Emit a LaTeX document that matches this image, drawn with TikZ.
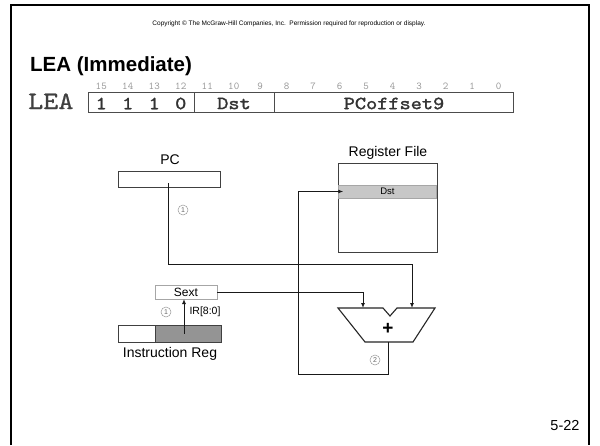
\documentclass[tikz,border=0pt]{standalone}
\usepackage{fontspec}
\setmainfont{Liberation Sans}
\newfontfamily\courfont{lmmono10-regular.otf}[FakeStretch=1.15, FakeBold=0.6]
\newfontfamily\courbold{lmmono10-regular.otf}[FakeStretch=1.15, FakeBold=1.6]
\newfontfamily\bitfont{lmmono10-regular.otf}
\usetikzlibrary{arrows.meta}
\begin{document}
\begin{tikzpicture}[x=1pt,y=-1pt,
  lbl/.style={font=\fontsize{14}{16}\selectfont, inner sep=0pt},
  wire/.style={draw=black!90, line width=0.9pt},
  arr/.style={wire, -{Latex[length=5pt,width=4pt]}},
  regbox/.style={draw=black!75, line width=1pt, inner sep=0pt},
  bitnum/.style={font=\bitfont\fontsize{10.5}{10}\selectfont, text=black!40, inner sep=0pt},
  fieldtxt/.style={font=\courbold\fontsize{18.5}{18}\selectfont, text=black!80, inner sep=0pt},
  circnum/.style={circle, draw=black!40, line width=0.5pt, inner sep=0pt, minimum size=10pt, font=\fontsize{7}{8}\selectfont, text=black!60}]
\useasboundingbox (0,0) rectangle (600,445);
\fill[white] (0,0) rectangle (600,445);
\draw[line width=2pt] (11,445) -- (11,5) -- (589,5) -- (589,445);

\node[font=\fontsize{6.5}{7}\selectfont, inner sep=0pt] (copy) at (289,24) {Copyright © The McGraw-Hill Companies, Inc.\ \ Permission required for reproduction or display.};
\node[font=\fontsize{20.5}{22}\selectfont\bfseries, anchor=base west, inner sep=0pt] (title) at (30,71) {LEA (Immediate)};

% instruction format
\node[font=\courfont\fontsize{25}{25}\selectfont, text=black!75, anchor=base west, inner sep=0pt] (lealbl) at (28,109) {LEA};
\node[draw=black!70, line width=1pt, minimum width=425pt, minimum height=20pt, inner sep=0pt] (instr) at (300.5,102) {};
\draw[draw=black!70, line width=1pt] (194,92) -- (194,112);
\draw[draw=black!70, line width=1pt] (274.5,92) -- (274.5,112);
\foreach \i in {0,...,15} {
  \node[bitnum] (b\i) at ({88+(15-\i+0.5)*26.5},86) {\i};
}
\node[fieldtxt] (f15) at (101.25,103.5) {1};
\node[fieldtxt] (f14) at (127.75,103.5) {1};
\node[fieldtxt] (f13) at (154.25,103.5) {1};
\node[fieldtxt] (f12) at (180.75,103.5) {0};
\node[fieldtxt] (fdst) at (234,103.5) {Dst};
\node[fieldtxt] (fpc) at (394,103.5) {PCoffset9};

% PC
\node[regbox, minimum width=102pt, minimum height=16pt] (pc) at (169,179) {};
\node[lbl] (pclbl) at (170,160) {PC};

% Register file
\node[regbox, minimum width=99pt, minimum height=89pt] (rf) at (387.5,207.5) {};
\node[lbl] (rflbl) at (388,153) {Register File};
\node[fill=black!22, draw=black!35, line width=0.5pt, minimum width=98pt, minimum height=13pt, inner sep=0pt, font=\fontsize{9.5}{10}\selectfont] (dst) at (387.5,191.5) {Dst};

% Adder
\coordinate (addL) at (363,308);
\coordinate (addR) at (412,308);
\coordinate (addO) at (388,342);
\draw[draw=black!85, line width=1.1pt, fill=white] (338,308) -- (383,308) -- (390,316) -- (397,308) -- (435,308) -- (413,342) -- (365,342) -- cycle;
\node[font=\fontsize{19}{19}\selectfont\bfseries, inner sep=0pt] (plus) at (388,329) {+};

% Sext
\node[draw=black!35, line width=0.8pt, minimum width=62pt, minimum height=14pt, inner sep=0pt, font=\fontsize{12}{12}\selectfont] (sext) at (186,292) {Sext};

% Instruction register
\node[regbox, minimum width=37pt, minimum height=17pt] (irL) at (136.5,333.5) {};
\node[regbox, fill=black!42, minimum width=66pt, minimum height=17pt] (irR) at (188,333.5) {};
\node[lbl] (irlbl) at (170,354) {Instruction Reg};

% wires
\draw[arr] (168,183) -- (168,264) -- (412,264) -- (addR);
\draw[arr] (sext.east) -- (363,292) -- (addL);
\draw[arr] (addO) -- (388,374) -- (298,374) -- (298,191.5) -- ([xshift=5pt]dst.west);
\draw[arr] ([xshift=-4pt]irR.center) -- (184,299);
\node[font=\fontsize{10.5}{11}\selectfont, inner sep=0pt] (irlab) at (205,312) {IR[8:0]};

\node[circnum] (c1a) at (183,210) {1};
\node[circnum] (c1b) at (166,312) {1};
\node[circnum] (c2) at (375,360) {2};

\node[font=\fontsize{14.5}{15}\selectfont, inner sep=0pt] (pg) at (565,426) {5-22};
\end{tikzpicture}
\end{document}
